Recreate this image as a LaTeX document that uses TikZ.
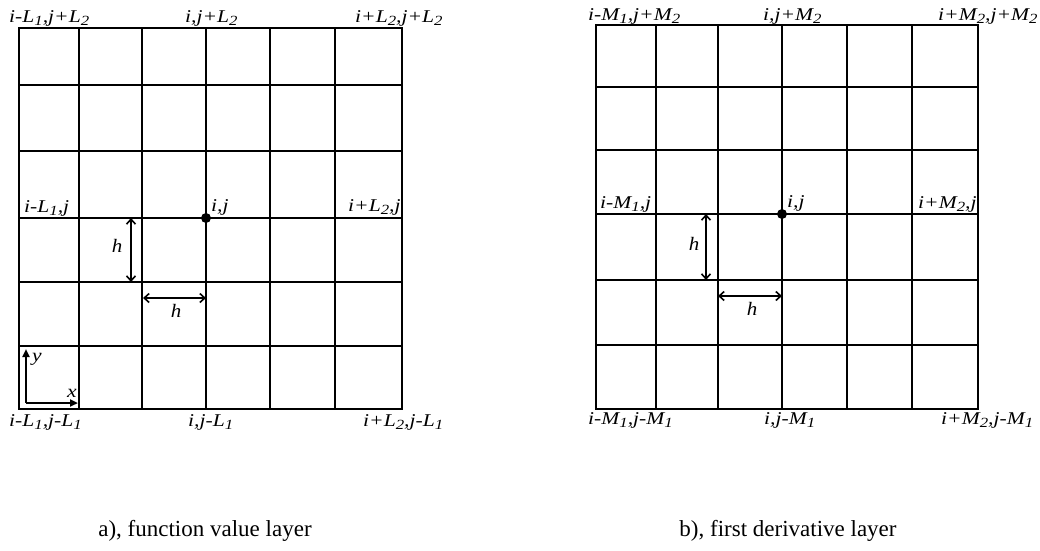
\documentclass[tikz,border=0pt]{standalone}
\usepackage{fontspec}
\setmainfont{Liberation Serif}
\usetikzlibrary{arrows.meta}
\newcommand\lsub[1]{\raisebox{-0.22em}{\fontsize{14}{14}\selectfont #1}}
\newcommand\lwide[1]{\scalebox{1.2}[1]{#1}}
\newcommand\hwide[1]{\scalebox{1.1}[1]{#1}}
\begin{document}
\begin{tikzpicture}[x=1pt,y=-1pt,
  gridline/.style={line width=2.8pt, line cap=rect},
  lab/.style={inner sep=0pt, anchor=base west, font=\fontsize{18}{18}\selectfont\itshape},
  hlab/.style={inner sep=0pt, anchor=base, font=\fontsize{19}{19}\selectfont\itshape},
  caption/.style={inner sep=0pt, anchor=base, font=\fontsize{23}{23}\selectfont},
  dim/.style={line width=1.6pt, {Straight Barb[length=5pt,width=9pt]}-{Straight Barb[length=5pt,width=9pt]}},
  axis/.style={line width=2.2pt, -{Triangle[length=8pt,width=7pt]}},
  dot/.style={circle, fill=black, inner sep=0pt, minimum size=10pt}
]
\useasboundingbox[fill=white] (0,0) rectangle (1040,550);

% ---------- left grid ----------
\foreach \x in {19,79,142,206,270,335,402} \draw[gridline] (\x,28) -- (\x,409);
\foreach \y in {28,85,151,218,282,346,409} \draw[gridline] (19,\y) -- (402,\y);
\node[dot] (cA) at (206,218) {};

\node[lab] (aTL) at (9,22) {\lwide{i-L\lsub{1},j+L\lsub{2}}};
\node[lab] (aTM) at (185,22) {\lwide{i,j+L\lsub{2}}};
\node[lab] (aTR) at (355,22) {\lwide{i+L\lsub{2},j+L\lsub{2}}};
\node[lab] (aML) at (24,212) {\lwide{i-L\lsub{1},j}};
\node[lab] (aMM) at (211,211) {\lwide{i,j}};
\node[lab] (aMR) at (348,211) {\lwide{i+L\lsub{2},j}};
\node[lab] (aBL) at (9,426) {\lwide{i-L\lsub{1},j-L\lsub{1}}};
\node[lab] (aBM) at (188,426) {\lwide{i,j-L\lsub{1}}};
\node[lab] (aBR) at (363,426) {\lwide{i+L\lsub{2},j-L\lsub{1}}};

\coordinate (aV1) at (131,218);
\coordinate (aV2) at (131,282);
\draw[dim] (aV1) -- (aV2);
\node[hlab] (aVh) at (117,252) {\hwide{h}};
\coordinate (aH1) at (143,298);
\coordinate (aH2) at (206,298);
\draw[dim] (aH1) -- (aH2);
\node[hlab] (aHh) at (176,317) {\hwide{h}};

\coordinate (ax0) at (26,403);
\coordinate (axY) at (26,349);
\coordinate (axX) at (78,403);
\draw[axis] (ax0) -- (axY);
\draw[axis] (ax0) -- (axX);
\node[lab] (ylab) at (32,361) {\lwide{y}};
\node[lab] (xlab) at (67,397) {\lwide{x}};

\node[caption] (capA) at (205,536) {a), function value layer};

% ---------- right grid ----------
\foreach \x in {596,656,718,782,847,912,978} \draw[gridline] (\x,25) -- (\x,409);
\foreach \y in {25,87,150,214,280,345,409} \draw[gridline] (596,\y) -- (978,\y);
\node[dot] (cB) at (782,214) {};

\node[lab] (bTL) at (588,20) {\lwide{i-M\lsub{1},j+M\lsub{2}}};
\node[lab] (bTM) at (763,20) {\lwide{i,j+M\lsub{2}}};
\node[lab] (bTR) at (938,20) {\lwide{i+M\lsub{2},j+M\lsub{2}}};
\node[lab] (bML) at (600,208) {\lwide{i-M\lsub{1},j}};
\node[lab] (bMM) at (787,207) {\lwide{i,j}};
\node[lab] (bMR) at (918,208) {\lwide{i+M\lsub{2},j}};
\node[lab] (bBL) at (588,424) {\lwide{i-M\lsub{1},j-M\lsub{1}}};
\node[lab] (bBM) at (764,424) {\lwide{i,j-M\lsub{1}}};
\node[lab] (bBR) at (941,424) {\lwide{i+M\lsub{2},j-M\lsub{1}}};

\coordinate (bV1) at (706,214);
\coordinate (bV2) at (706,280);
\draw[dim] (bV1) -- (bV2);
\node[hlab] (bVh) at (694,250) {\hwide{h}};
\coordinate (bH1) at (718,296);
\coordinate (bH2) at (782,296);
\draw[dim] (bH1) -- (bH2);
\node[hlab] (bHh) at (752,315) {\hwide{h}};

\node[caption] (capB) at (788,536) {b), first derivative layer};
\end{tikzpicture}
\end{document}
